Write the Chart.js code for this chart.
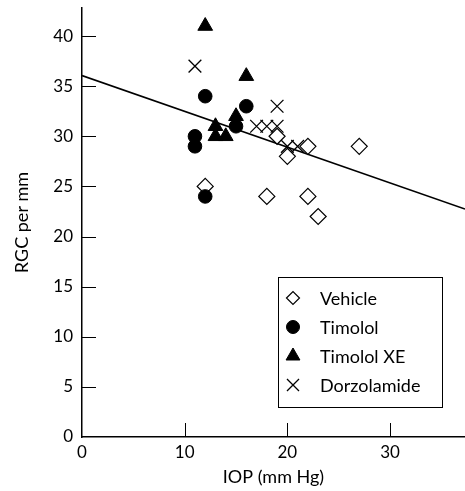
<!DOCTYPE html>
<html>
<head>
<meta charset="utf-8">
<title>RGC vs IOP</title>
<script src="https://cdn.jsdelivr.net/npm/chart.js@4.4.1/dist/chart.umd.min.js"></script>
<style>
  html, body { margin: 0; padding: 0; background: #fff; }
  #wrap { width: 465px; height: 491px; }
</style>
</head>
<body>
<div id="wrap"><canvas id="chart" width="465" height="491"></canvas></div>
<script>
// data (IOP in mm Hg, RGC per mm)
const vehicleX = [12, 18, 22, 23, 19, 20, 22, 27];
const vehicleY = [25, 24, 24, 22, 30, 28, 29, 29];
const timololX = [12, 16, 11, 11, 15, 12];
const timololY = [34, 33, 30, 29, 31, 24];
const timololXeX = [12, 16, 13, 15, 13, 14];
const timololXeY = [41, 36, 31, 32, 30, 30];
const dorzoX = [11, 19, 17, 18, 19, 20, 21];
const dorzoY = [37, 33, 31, 31, 31, 29, 29];
// regression line end points
const fitX = [0, 37.3];
const fitY = [36.06, 22.74];

const xTicks = [0, 10, 20, 30];
const yTicks = [0, 5, 10, 15, 20, 25, 30, 35, 40];

const pts = (xs, ys) => xs.map((x, i) => ({ x: x, y: ys[i] }));
const FONT = 'Lato, "DejaVu Sans", sans-serif';

// short ticks pointing into the plot
const inwardTicks = {
  id: 'inwardTicks',
  beforeDatasetsDraw(chart) {
    const ctx = chart.ctx;
    const xs = chart.scales.x, ys = chart.scales.y;
    const len = 14;
    ctx.save();
    ctx.strokeStyle = '#000';
    ctx.lineWidth = 1;
    xTicks.forEach(v => {
      if (v === 0) return;
      const px = Math.round(xs.getPixelForValue(v)) + 0.5;
      ctx.beginPath();
      ctx.moveTo(px, ys.bottom);
      ctx.lineTo(px, ys.bottom - len);
      ctx.stroke();
    });
    yTicks.forEach(v => {
      if (v === 0) return;
      const py = Math.round(ys.getPixelForValue(v)) + 0.5;
      ctx.beginPath();
      ctx.moveTo(xs.left, py);
      ctx.lineTo(xs.left + len, py);
      ctx.stroke();
    });
    ctx.restore();
  }
};

// boxed legend in the lower right of the plot
const boxLegend = {
  id: 'boxLegend',
  afterDraw(chart) {
    const ctx = chart.ctx;
    const area = chart.chartArea;
    const w = 164, h = 130;
    const left = area.right - 23 - w;
    const top = area.bottom - 30 - h;
    ctx.save();
    ctx.fillStyle = '#fff';
    ctx.fillRect(left, top, w, h);
    ctx.strokeStyle = '#000';
    ctx.lineWidth = 1;
    ctx.strokeRect(Math.round(left) + 0.5, Math.round(top) + 0.5, w, h);
    const items = chart.data.datasets.filter(d => d.showInLegend);
    items.sort((a, b) => a.legendIndex - b.legendIndex);
    ctx.font = '18px ' + FONT;
    ctx.textBaseline = 'middle';
    items.forEach((d, i) => {
      const cy = top + 21 + i * 29;
      const cx = left + 15;
      ctx.fillStyle = d.backgroundColor;
      ctx.strokeStyle = d.borderColor;
      ctx.lineWidth = d.borderWidth;
      Chart.helpers.drawPoint(ctx, {
        pointStyle: d.pointStyle,
        radius: d.legendRadius,
        rotation: 0,
        borderWidth: d.borderWidth
      }, cx, cy);
      ctx.fillStyle = '#000';
      ctx.fillText(d.label, left + 42, cy + 1);
    });
    ctx.restore();
  }
};

new Chart(document.getElementById('chart'), {
  type: 'scatter',
  data: {
    datasets: [
      {
        label: 'Timolol XE', data: pts(timololXeX, timololXeY), order: 1,
        pointStyle: 'triangle', pointRadius: 8.5, backgroundColor: '#000',
        borderColor: '#000', borderWidth: 1, showInLegend: true, legendIndex: 2, legendRadius: 8
      },
      {
        label: 'Timolol', data: pts(timololX, timololY), order: 2,
        pointStyle: 'circle', pointRadius: 6.8, backgroundColor: '#000',
        borderColor: '#000', borderWidth: 1, showInLegend: true, legendIndex: 1, legendRadius: 6.5
      },
      {
        label: 'Vehicle', data: pts(vehicleX, vehicleY), order: 3,
        pointStyle: 'rectRot', pointRadius: 8, backgroundColor: '#fff',
        borderColor: '#000', borderWidth: 1.2, showInLegend: true, legendIndex: 0, legendRadius: 6.5
      },
      {
        label: 'Dorzolamide', data: pts(dorzoX, dorzoY), order: 4,
        pointStyle: 'crossRot', pointRadius: 9, backgroundColor: '#000',
        borderColor: '#000', borderWidth: 1.3, showInLegend: true, legendIndex: 3, legendRadius: 8.5
      },
      {
        type: 'line', label: 'fit', data: pts(fitX, fitY), order: 5,
        borderColor: '#000', borderWidth: 1.6, pointRadius: 0, fill: false,
        showInLegend: false
      }
    ]
  },
  options: {
    responsive: false,
    animation: false,
    layout: { autoPadding: false, padding: { top: 8, right: 0, left: 0, bottom: 0 } },
    plugins: {
      legend: { display: false },
      tooltip: { enabled: false }
    },
    scales: {
      x: {
        type: 'linear',
        min: 0,
        max: 37.3,
        afterBuildTicks: s => { s.ticks = xTicks.map(v => ({ value: v })); },
        afterFit: s => { s.height = 54; s.paddingLeft = 0; s.paddingRight = 0; },
        grid: { display: false, drawTicks: false },
        border: { display: true, color: '#000', width: 1.5 },
        ticks: { color: '#000', padding: 5, font: { family: FONT, size: 17 }, maxRotation: 0 },
        title: {
          display: true, text: 'IOP (mm Hg)', color: '#000',
          font: { family: FONT, size: 18 }, padding: { top: 0, bottom: 3 }
        }
      },
      y: {
        type: 'linear',
        min: 0,
        max: 42.8,
        afterBuildTicks: s => { s.ticks = yTicks.map(v => ({ value: v })); },
        afterFit: s => { s.width = 82; s.paddingTop = 0; s.paddingBottom = 0; },
        grid: { display: false, drawTicks: false },
        border: { display: true, color: '#000', width: 1.5 },
        ticks: { color: '#000', padding: 9, font: { family: FONT, size: 17 } },
        title: {
          display: true, text: 'RGC per mm', color: '#000',
          font: { family: FONT, size: 18 }, padding: { top: 11, bottom: 0 }
        }
      }
    }
  },
  plugins: [inwardTicks, boxLegend]
});
</script>
</body>
</html>
